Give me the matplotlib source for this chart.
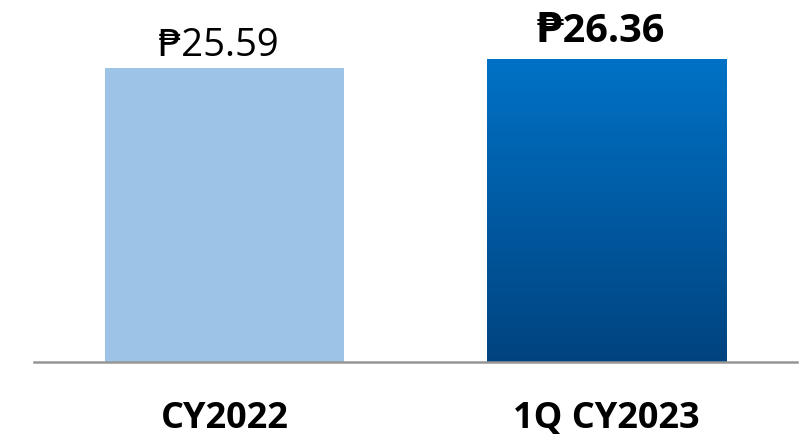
import matplotlib
matplotlib.use("Agg")
import matplotlib.pyplot as plt
import numpy as np
from matplotlib.colors import LinearSegmentedColormap

categories = ["CY2022", "1Q CY2023"]
values = [25.59, 26.36]
value_labels = ["₱25.59", "₱26.36"]

plt.rcParams['font.family'] = ['Open Sans', 'DejaVu Sans']

fig = plt.figure(figsize=(8.02, 4.42), dpi=100)
ax = fig.add_axes([34/802, 80/442, 763/802, 362/442])

x = np.arange(len(categories))
width = 0.626
bars = ax.bar(x, values, width=width, color=["#9DC3E6", "none"], zorder=2)

# gradient for second bar
b = bars[1]
cmap = LinearSegmentedColormap.from_list("g", ["#00437F", "#0072C6"])
grad = np.linspace(0, 1, 256).reshape(-1, 1)
im = ax.imshow(grad, cmap=cmap, origin="lower", aspect="auto",
               extent=[b.get_x(), b.get_x() + b.get_width(), 0, b.get_height()],
               zorder=2)
im.set_clip_path(b)
ax.set_xlim(-0.4987, 1.4987)
ax.set_ylim(0, 31.5)

# value labels
ax.annotate(value_labels[0], xy=(x[0], values[0]), xytext=(-4.5, 8.6),
            textcoords="offset points", ha="center", va="baseline",
            fontsize=27.5, color="black")
ax.annotate(value_labels[1], xy=(x[1], values[1]), xytext=(-4.5, 12.2),
            textcoords="offset points", ha="center", va="baseline",
            fontsize=28.5, fontweight="bold", color="black")

for s in ["top", "right", "left"]:
    ax.spines[s].set_visible(False)
ax.spines["bottom"].set_color("#969696")
ax.spines["bottom"].set_linewidth(1.8)
ax.set_yticks([])
ax.set_xticks(x)
ax.set_xticklabels(categories, fontsize=26, fontweight="bold", va="baseline")
ax.tick_params(axis="x", length=0, pad=47.5)

fig.savefig("out.png", dpi=100)
